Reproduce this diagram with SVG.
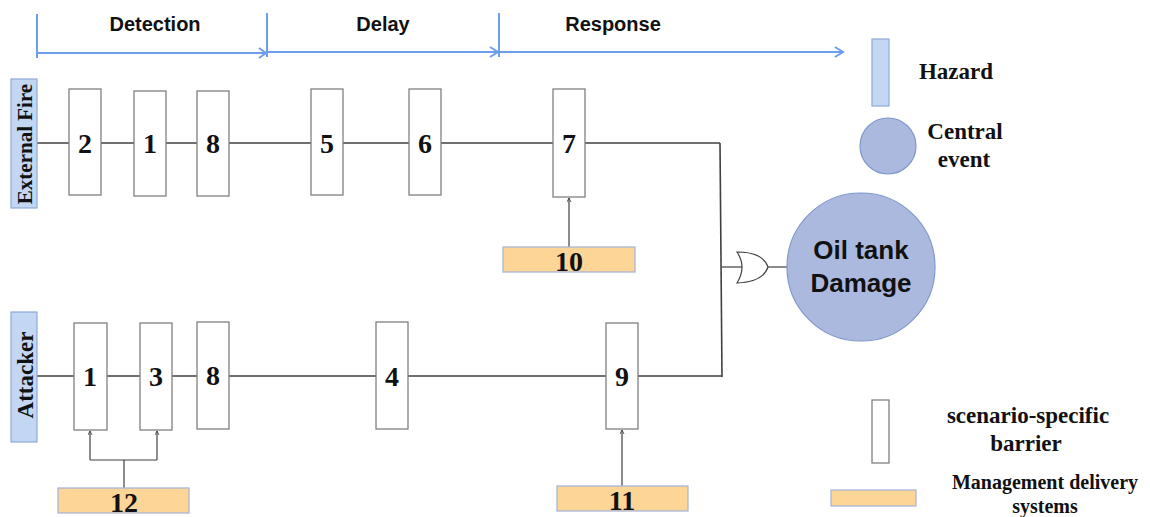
<svg xmlns="http://www.w3.org/2000/svg" width="1150" height="517" viewBox="0 0 1150 517">
<style>
.hdr{stroke:#6d9eeb;stroke-width:2;fill:none}
.ht{font-family:"Liberation Sans",Arial,sans-serif;font-weight:bold;font-size:20px;fill:#111;text-anchor:middle}
.big{font-size:26px}
.bar{fill:#fff;stroke:#808080;stroke-width:1.3}
.num{font-family:"Liberation Serif","Times New Roman",serif;font-weight:bold;font-size:28px;fill:#111;text-anchor:middle}
.haz{fill:#c3d7f2;stroke:#8eaadb;stroke-width:1.2}
.hazt{font-family:"Liberation Serif","Times New Roman",serif;font-weight:bold;font-size:21px;fill:#111;text-anchor:middle}
.hazt2{font-size:23px}
.mds{fill:#fdd597;stroke:#a9b7d6;stroke-width:1.3}
.ln{stroke:#404040;stroke-width:1.6;fill:none}
.thin{stroke:#404040;stroke-width:1.2;fill:none}
.ce{fill:#abb9de;stroke:#7f97cf;stroke-width:1.2}
.leg{font-family:"Liberation Serif","Times New Roman",serif;font-weight:bold;font-size:23px;fill:#111;text-anchor:middle}
.leg2{font-size:20px}
</style>
<defs>
<marker id="ar" viewBox="0 0 6 6" refX="5" refY="3" markerWidth="5" markerHeight="5" orient="auto" markerUnits="userSpaceOnUse">
<path d="M0,0.5 L5,3 L0,5.5" fill="none" stroke="#404040" stroke-width="1"/>
</marker>
</defs>
<rect width="1150" height="517" fill="#fff"/>

<g id="phases">
<line class="hdr" x1="37" y1="14" x2="37" y2="58"/>
<line class="hdr" x1="267" y1="13" x2="267" y2="57"/>
<line class="hdr" x1="499" y1="13" x2="499" y2="57"/>
<line class="hdr" x1="37" y1="53" x2="266" y2="53"/>
<polyline class="hdr" points="259,48 266,53 259,58"/>
<line class="hdr" x1="267" y1="52" x2="498" y2="52"/>
<polyline class="hdr" points="490,47 498,52 490,57"/>
<line class="hdr" x1="499" y1="52" x2="843" y2="52"/>
<polyline class="hdr" points="835,47 843,52 835,57"/>
<text class="ht" x="155" y="31">Detection</text>
<text class="ht" x="383" y="31">Delay</text>
<text class="ht" x="613" y="31">Response</text>
</g>

<g id="connectors">
<line class="ln" x1="37" y1="143" x2="720" y2="143"/>
<line class="ln" x1="37" y1="376" x2="722" y2="376"/>
<polyline class="ln" points="720,143 722,377"/>
<line class="thin" x1="722" y1="267" x2="742" y2="267"/>
<line class="thin" x1="768" y1="267" x2="787" y2="267"/>
<line class="thin" x1="569" y1="247" x2="569" y2="198" marker-end="url(#ar)"/>
<line class="thin" x1="622" y1="486" x2="622" y2="430" marker-end="url(#ar)"/>
<line class="thin" x1="124" y1="488" x2="124" y2="460"/>
<polyline class="thin" points="90,460 157,460"/>
<line class="thin" x1="90" y1="460" x2="90" y2="431" marker-end="url(#ar)"/>
<line class="thin" x1="157" y1="460" x2="157" y2="431" marker-end="url(#ar)"/>
</g>

<g id="hazard-fire">
<rect class="haz" x="11" y="79" width="26" height="129"/>
<text class="hazt" transform="translate(32,144) rotate(-90)">External Fire</text>
</g>
<g id="hazard-attacker">
<rect class="haz" x="11" y="312" width="26" height="130"/>
<text class="hazt hazt2" transform="translate(33,375) rotate(-90)">Attacker</text>
</g>

<g id="f2"><rect class="bar" x="69" y="89" width="32" height="106"/><text class="num" x="85" y="153">2</text></g>
<g id="f1"><rect class="bar" x="134" y="91" width="32" height="105"/><text class="num" x="150" y="153">1</text></g>
<g id="f8"><rect class="bar" x="197" y="91" width="32" height="105"/><text class="num" x="213" y="153">8</text></g>
<g id="f5"><rect class="bar" x="311" y="89" width="32" height="106"/><text class="num" x="327" y="153">5</text></g>
<g id="f6"><rect class="bar" x="409" y="89" width="32" height="106"/><text class="num" x="425" y="153">6</text></g>
<g id="f7"><rect class="bar" x="553" y="89" width="32" height="108"/><text class="num" x="569" y="153">7</text></g>
<g id="m10"><rect class="mds" x="503" y="247" width="132" height="25"/><text class="num" x="569" y="271">10</text></g>

<g id="a1"><rect class="bar" x="74" y="323" width="33" height="107"/><text class="num" x="90" y="386">1</text></g>
<g id="a3"><rect class="bar" x="140" y="323" width="32" height="107"/><text class="num" x="156" y="386">3</text></g>
<g id="a8"><rect class="bar" x="197" y="322" width="32" height="107"/><text class="num" x="213" y="385">8</text></g>
<g id="a4"><rect class="bar" x="376" y="322" width="32" height="107"/><text class="num" x="392" y="386">4</text></g>
<g id="a9"><rect class="bar" x="606" y="323" width="32" height="106"/><text class="num" x="622" y="386">9</text></g>
<g id="m11"><rect class="mds" x="557" y="486" width="131" height="25"/><text class="num" x="622" y="510">11</text></g>
<g id="m12"><rect class="mds" x="58" y="488" width="131" height="25"/><text class="num" x="124" y="512">12</text></g>

<g id="or-gate">
<path class="thin" d="M737,252 Q763,252 768,267 Q763,282 737,283 Q747,267 737,252 Z" fill="#fff"/>
</g>

<g id="central-event">
<circle class="ce" cx="861" cy="267" r="74"/>
<text class="ht big" x="861" y="259">Oil tank</text>
<text class="ht big" x="861" y="292">Damage</text>
</g>

<g id="legend">
<rect class="haz" x="872" y="39" width="17" height="67"/>
<text class="leg" x="956" y="79">Hazard</text>
<circle class="ce" cx="888" cy="146" r="28"/>
<text class="leg" x="965" y="139">Central</text>
<text class="leg" x="964" y="167">event</text>
<rect class="bar" x="872" y="400" width="17" height="63"/>
<text class="leg" x="1028" y="423">scenario-specific</text>
<text class="leg" x="1026" y="451">barrier</text>
<rect class="mds" x="831" y="490" width="85" height="16"/>
<text class="leg leg2" x="1045" y="489">Management delivery</text>
<text class="leg leg2" x="1045" y="513">systems</text>
</g>
</svg>
